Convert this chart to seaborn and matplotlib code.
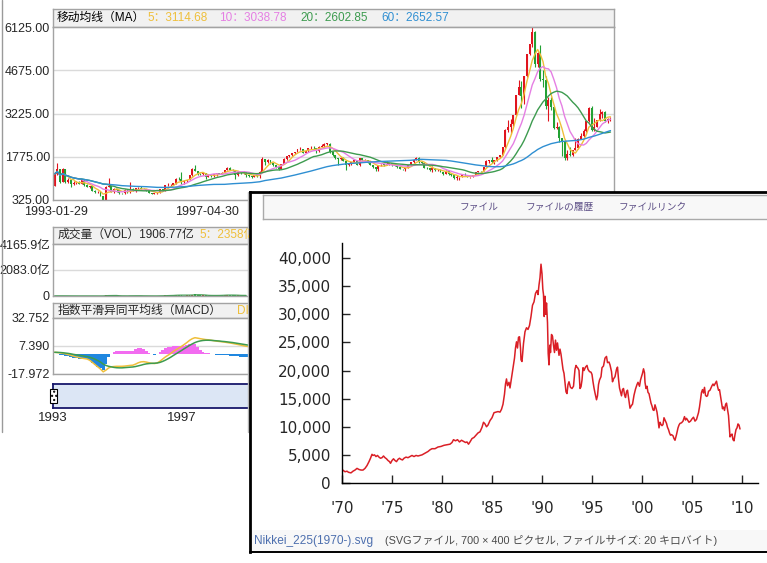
import numpy as np
import pandas as pd
import seaborn as sns
import matplotlib
matplotlib.use("Agg")
import matplotlib.pyplot as plt
from matplotlib.patches import Rectangle
from matplotlib.lines import Line2D

W, H = 767, 563

# ---- Shanghai composite, monthly candles 1993-01 .. 2010-03 ----
sh_first_open = 780.39
sh_close = [
    1200, 1358, 925, 1358, 934, 1007, 860, 894, 905, 876, 1002, 834,
    770, 793, 640, 577, 589, 467, 333, 766, 801, 609, 686, 648,
    562, 549, 673, 580, 700, 630, 713, 720, 710, 700, 630, 555,
    537, 552, 563, 701, 643, 816, 829, 840, 886, 1039, 1030, 917,
    964, 1000, 1150, 1350, 1300, 1200, 1190, 1220, 1100, 1150, 1130, 1194,
    1220, 1206, 1240, 1330, 1411, 1339, 1320, 1150, 1250, 1220, 1250, 1147,
    1134, 1090, 1158, 1120, 1280, 1690, 1600, 1660, 1560, 1500, 1430, 1367,
    1535, 1714, 1800, 1836, 1894, 1928, 2023, 2024, 1910, 1961, 2070, 2073,
    2065, 1960, 2112, 2119, 2214, 2218, 1920, 1834, 1735, 1689, 1747, 1646,
    1491, 1525, 1603, 1663, 1515, 1732, 1652, 1669, 1581, 1508, 1434, 1358,
    1500, 1511, 1510, 1521, 1576, 1487, 1476, 1421, 1367, 1348, 1397, 1497,
    1590, 1675, 1741, 1595, 1555, 1399, 1386, 1342, 1396, 1320, 1340, 1267,
    1191, 1306, 1181, 1159, 1060, 1080, 1083, 1162, 1155, 1092, 1099, 1161,
    1258, 1299, 1298, 1440, 1641, 1672, 1612, 1658, 1752, 1837, 2099, 2675,
    2786, 2881, 3183, 3841, 4109, 3820, 4471, 5218, 5552, 5954, 4871, 5262,
    4383, 4348, 3473, 3693, 3433, 2736, 2775, 2397, 2293, 1729, 1871, 1821,
    1991, 2082, 2373, 2477, 2633, 2959, 3412, 2668, 2779, 2996, 3195, 3277,
    2989, 3052, 3060]
sh_high = [
    1260, 1559, 1380, 1392, 1360, 1050, 1030, 950, 960, 950, 1044, 1010,
    850, 800, 800, 660, 610, 590, 470, 800, 1052, 810, 720, 700,
    650, 570, 680, 680, 926, 720, 720, 760, 780, 740, 705, 640,
    560, 560, 580, 710, 705, 830, 880, 860, 900, 1050, 1080, 1258,
    980, 1010, 1160, 1390, 1510, 1310, 1230, 1240, 1225, 1180, 1160, 1200,
    1230, 1230, 1250, 1340, 1422, 1420, 1360, 1325, 1270, 1260, 1300, 1260,
    1160, 1140, 1170, 1170, 1300, 1756, 1700, 1700, 1680, 1570, 1510, 1440,
    1545, 1740, 1810, 1850, 1900, 1950, 2030, 2115, 2030, 1970, 2080, 2125,
    2130, 2070, 2120, 2210, 2230, 2245, 2220, 1960, 1850, 1740, 1780, 1760,
    1650, 1540, 1610, 1680, 1670, 1748, 1740, 1690, 1670, 1590, 1515, 1440,
    1510, 1530, 1530, 1649, 1580, 1580, 1510, 1490, 1430, 1380, 1400, 1510,
    1600, 1690, 1760, 1783, 1610, 1560, 1420, 1400, 1480, 1400, 1370, 1350,
    1270, 1320, 1310, 1235, 1165, 1150, 1090, 1180, 1220, 1160, 1110, 1170,
    1260, 1310, 1310, 1445, 1660, 1680, 1757, 1660, 1760, 1840, 2100, 2700,
    2995, 3050, 3190, 3850, 4336, 4300, 4480, 5220, 5560, 6124, 5990, 5300,
    5522, 4700, 4470, 3790, 3790, 3440, 2950, 2800, 2400, 2300, 2000, 2100,
    2010, 2402, 2390, 2580, 2690, 2980, 3450, 3478, 3070, 3020, 3361, 3300,
    3306, 3060, 3110]
sh_low = [
    780, 1150, 900, 920, 900, 900, 770, 820, 860, 850, 860, 810,
    760, 730, 620, 550, 550, 450, 326, 330, 760, 590, 560, 600,
    540, 524, 540, 560, 560, 620, 600, 690, 700, 690, 610, 545,
    512, 520, 530, 560, 620, 640, 790, 800, 820, 870, 990, 855,
    870, 940, 990, 1140, 1290, 1150, 1150, 1170, 1025, 1090, 1100, 1110,
    1140, 1180, 1190, 1230, 1320, 1320, 1300, 1043, 1130, 1190, 1210, 1110,
    1100, 1064, 1080, 1100, 1050, 1270, 1500, 1580, 1540, 1480, 1400, 1341,
    1360, 1520, 1680, 1780, 1810, 1860, 1920, 1990, 1890, 1890, 1950, 2040,
    2020, 1890, 1950, 2090, 2110, 2180, 1900, 1800, 1700, 1514, 1660, 1620,
    1340, 1450, 1510, 1590, 1490, 1460, 1640, 1620, 1570, 1490, 1400, 1311,
    1310, 1470, 1480, 1500, 1500, 1470, 1460, 1410, 1355, 1320, 1307, 1390,
    1490, 1580, 1650, 1580, 1520, 1390, 1360, 1310, 1260, 1300, 1300, 1250,
    1178, 1180, 1170, 1130, 1040, 998, 1004, 1080, 1130, 1090, 1070, 1090,
    1160, 1250, 1260, 1290, 1420, 1550, 1560, 1540, 1640, 1740, 1820, 2080,
    2600, 2540, 2800, 3170, 3830, 3400, 3560, 4460, 5200, 5460, 4800, 4780,
    4330, 4120, 3360, 2990, 3330, 2690, 2690, 2280, 1800, 1664, 1680, 1800,
    1800, 1990, 2040, 2370, 2450, 2620, 2950, 2640, 2640, 2770, 2990, 3070,
    2940, 2890, 2990]
ma_windows = [5, 10, 20, 60]
ma_colors = ["#efbf3a", "#e57fe3", "#3d9b4f", "#2f8fd2"]
ma_labels = ["5：3114.68", "10：3038.78", "20：2602.85", "60：2652.57"]
price_ticks = [325.00, 1775.00, 3225.00, 4675.00, 6125.00]

# volume (亿), visible part 1993-1998
vol_1993_1998 = [
    10, 15, 12, 10, 8, 6, 6, 5, 5, 4, 8, 6,
    4, 3, 4, 3, 3, 3, 8, 90, 60, 15, 20, 10,
    6, 5, 12, 8, 40, 12, 15, 14, 12, 8, 6, 5,
    5, 6, 8, 30, 25, 45, 50, 40, 55, 90, 85, 70,
    40, 60, 90, 120, 140, 70, 50, 55, 45, 40, 35, 40,
    55, 50, 70, 80, 90, 60, 55, 50, 45, 40, 50, 40]
vol_ticks = [0, 2083.0, 4165.9]
vol_ticklabels = ["0", "2083.0亿", "4165.9亿"]

# MACD, visible part 1993-01 .. 1999-01
macd_dif = [
    1.7, 1.5, 1.2, 0.8, 0.3, -0.3, -1.0, -1.8, -2.5, -3.0, -3.6, -4.0,
    -4.4, -5.5, -7.5, -9.5, -11.5, -13.5, -16.0, -14.5, -12.5, -11.5, -11.2, -11.0,
    -11.0, -11.0, -10.8, -10.5, -10.2, -10.0, -9.0, -7.8, -7.0, -6.8, -7.2, -7.8,
    -8.3, -8.5, -8.0, -6.5, -4.5, -2.6, -1.0, 0.5, 2.5, 4.0, 5.5, 7.0,
    8.7, 10.5, 12.5, 14.0, 14.9, 14.5, 14.0, 13.6, 13.2, 13.0, 12.6, 12.2,
    11.8, 11.5, 11.2, 10.9, 10.5, 10.1, 9.7, 9.2, 8.7, 8.2, 7.6, 7.2, 6.8]
macd_dea = [
    1.7, 1.6, 1.5, 1.3, 1.0, 0.7, 0.3, -0.2, -0.6, -1.0, -1.4, -1.8,
    -2.2, -2.8, -3.6, -4.6, -5.8, -7.2, -9.0, -10.2, -11.0, -11.5, -12.0, -12.3,
    -12.4, -12.4, -12.2, -12.0, -11.8, -11.6, -11.2, -10.6, -10.0, -9.3, -8.8, -8.5,
    -8.3, -8.2, -8.0, -7.5, -6.6, -5.5, -4.2, -2.8, -1.2, 0.3, 1.8, 3.3,
    4.9, 6.4, 7.9, 9.3, 10.5, 11.4, 12.0, 12.4, 12.6, 12.6, 12.5, 12.3,
    12.1, 11.9, 11.6, 11.4, 11.1, 10.8, 10.5, 10.1, 9.7, 9.3, 8.9, 8.5, 8.1]
macd_ticks = [-17.972, 7.390, 32.752]

# ---- Nikkei 225 (window on top), value in thousands of yen ----
nikkei_year = [
    1970.0, 1970.15, 1970.3, 1970.5, 1970.65, 1970.9, 1971.1, 1971.3, 1971.5, 1971.7,
    1971.9, 1972.1, 1972.3, 1972.5, 1972.7, 1972.85, 1973.0, 1973.1, 1973.25, 1973.4,
    1973.55, 1973.7, 1973.85, 1974.0, 1974.15, 1974.3, 1974.45, 1974.6, 1974.75, 1974.85,
    1975.0, 1975.15, 1975.3, 1975.45, 1975.6, 1975.75, 1975.9, 1976.05, 1976.2, 1976.4,
    1976.6, 1976.8, 1977.0, 1977.2, 1977.4, 1977.6, 1977.8, 1978.0, 1978.2, 1978.4,
    1978.6, 1978.8, 1979.0, 1979.3, 1979.6, 1979.9, 1980.2, 1980.5, 1980.8, 1981.0,
    1981.15, 1981.35, 1981.55, 1981.75, 1981.95, 1982.15, 1982.35, 1982.5, 1982.65, 1982.8,
    1983.0, 1983.2, 1983.4, 1983.6, 1983.8, 1984.0, 1984.15, 1984.3, 1984.45, 1984.6,
    1984.8, 1985.0, 1985.2, 1985.4, 1985.6, 1985.8, 1985.95, 1986.1, 1986.25, 1986.35,
    1986.45, 1986.55, 1986.7, 1986.8, 1986.95, 1987.1, 1987.25, 1987.35, 1987.45, 1987.55,
    1987.65, 1987.75, 1987.85, 1987.9, 1988.0, 1988.15, 1988.3, 1988.45, 1988.6, 1988.75,
    1988.9, 1989.05, 1989.2, 1989.35, 1989.5, 1989.6, 1989.7, 1989.8, 1989.9, 1990.0,
    1990.08, 1990.15, 1990.22, 1990.3, 1990.38, 1990.45, 1990.55, 1990.62, 1990.7, 1990.78,
    1990.85, 1990.95, 1991.05, 1991.15, 1991.25, 1991.35, 1991.45, 1991.55, 1991.7, 1991.8,
    1991.9, 1992.0, 1992.1, 1992.2, 1992.3, 1992.4, 1992.5, 1992.6, 1992.7, 1992.85,
    1993.0, 1993.15, 1993.3, 1993.4, 1993.5, 1993.6, 1993.7, 1993.8, 1993.9, 1994.0,
    1994.1, 1994.2, 1994.35, 1994.5, 1994.6, 1994.75, 1994.9, 1995.0, 1995.1, 1995.2,
    1995.3, 1995.45, 1995.55, 1995.65, 1995.75, 1995.9, 1996.0, 1996.15, 1996.3, 1996.45,
    1996.55, 1996.7, 1996.8, 1996.95, 1997.05, 1997.15, 1997.3, 1997.45, 1997.55, 1997.65,
    1997.75, 1997.85, 1997.95, 1998.05, 1998.15, 1998.25, 1998.35, 1998.45, 1998.55, 1998.7,
    1998.8, 1998.95, 1999.05, 1999.2, 1999.35, 1999.5, 1999.6, 1999.75, 1999.85, 1999.95,
    2000.05, 2000.15, 2000.25, 2000.3, 2000.4, 2000.5, 2000.6, 2000.7, 2000.8, 2000.9,
    2001.0, 2001.1, 2001.2, 2001.3, 2001.4, 2001.5, 2001.6, 2001.7, 2001.8, 2001.9,
    2002.0, 2002.1, 2002.2, 2002.3, 2002.45, 2002.55, 2002.65, 2002.75, 2002.85, 2002.95,
    2003.1, 2003.2, 2003.3, 2003.45, 2003.6, 2003.7, 2003.8, 2003.95, 2004.1, 2004.25,
    2004.35, 2004.45, 2004.6, 2004.7, 2004.85, 2005.0, 2005.15, 2005.3, 2005.45, 2005.55,
    2005.65, 2005.75, 2005.85, 2005.95, 2006.05, 2006.15, 2006.25, 2006.35, 2006.45, 2006.55,
    2006.65, 2006.8, 2006.9, 2007.0, 2007.1, 2007.2, 2007.35, 2007.45, 2007.55, 2007.65,
    2007.75, 2007.85, 2007.95, 2008.05, 2008.15, 2008.25, 2008.35, 2008.45, 2008.55, 2008.65,
    2008.75, 2008.8, 2008.9, 2009.0, 2009.1, 2009.2, 2009.3, 2009.4, 2009.5, 2009.6,
    2009.7, 2009.8]
nikkei_value = [
    2.4, 2.2, 2.0, 2.1, 1.9, 1.8, 2.1, 2.3, 2.6, 2.4,
    2.3, 2.3, 2.6, 3.1, 3.8, 4.4, 5.1, 4.9, 5.0, 4.7,
    4.9, 4.6, 4.4, 4.5, 4.8, 4.5, 4.3, 4.0, 3.8, 3.5,
    4.0, 4.3, 4.0, 3.8, 4.2, 4.4, 4.2, 4.1, 4.4, 4.6,
    4.5, 4.7, 4.9, 4.7, 4.9, 4.8, 4.9, 5.0, 5.2, 5.4,
    5.6, 5.9, 6.1, 6.1, 6.4, 6.5, 6.7, 6.8, 6.9, 7.2,
    7.7, 7.5, 7.7, 7.3, 7.6, 7.4, 7.2, 7.3, 6.9, 7.3,
    7.9, 8.1, 8.5, 8.9, 9.1, 9.9, 10.8, 10.5, 10.0, 10.3,
    11.1, 11.6, 12.5, 12.6, 12.7, 12.6, 13.1, 14.0, 15.8, 17.6,
    18.5, 17.3, 17.9, 16.9, 18.7, 20.4, 22.2, 24.0, 25.1, 24.0,
    25.9, 26.0, 24.0, 21.9, 21.6, 24.8, 26.9, 27.6, 27.3, 28.0,
    29.6, 31.6, 32.2, 33.7, 34.2, 33.5, 35.2, 36.5, 38.9, 37.2,
    34.5, 33.5, 29.6, 33.2, 30.0, 32.0, 28.5, 23.0, 21.0, 24.5,
    23.2, 26.4, 26.1, 24.5, 23.2, 25.4, 23.6, 24.9, 22.7, 23.8,
    22.9, 21.5, 20.2, 19.5, 17.9, 16.2, 15.9, 17.5, 18.0, 17.0,
    16.8, 17.2, 20.2, 20.9, 20.6, 20.4, 20.0, 16.8, 17.1, 18.3,
    20.5, 20.0, 20.6, 20.9, 20.2, 19.8, 19.7, 19.3, 18.0, 16.9,
    16.0, 14.8, 15.5, 17.5, 18.3, 18.9, 20.5, 20.8, 22.2, 22.5,
    21.4, 21.5, 21.0, 19.8, 18.0, 18.5, 18.9, 20.2, 20.6, 18.5,
    16.9, 16.2, 15.5, 16.6, 16.8, 15.7, 15.2, 16.2, 16.5, 14.5,
    13.3, 13.8, 14.0, 15.6, 16.7, 17.5, 17.9, 17.2, 18.3, 18.9,
    19.5, 20.3, 19.6, 17.9, 16.8, 17.2, 16.1, 15.9, 15.0, 14.2,
    13.7, 13.0, 12.9, 13.9, 13.3, 12.6, 11.3, 9.8, 10.8, 10.4,
    10.2, 10.4, 11.6, 11.2, 10.6, 9.9, 9.5, 8.9, 8.5, 8.6,
    8.4, 7.9, 7.6, 8.6, 9.8, 10.3, 10.6, 10.7, 11.0, 11.8,
    11.2, 11.5, 11.1, 10.8, 11.0, 11.4, 11.7, 11.0, 11.3, 11.9,
    12.5, 13.5, 14.8, 16.1, 16.6, 16.0, 17.0, 15.6, 15.4, 15.5,
    16.3, 16.5, 16.9, 17.3, 17.6, 17.3, 17.8, 18.1, 17.2, 16.5,
    16.6, 15.5, 14.5, 13.2, 13.5, 12.9, 13.9, 14.2, 13.1, 12.0,
    9.5, 8.2, 8.5, 8.7, 7.7, 7.5, 8.6, 9.5, 9.8, 10.5,
    10.3, 9.6]
nikkei_yticks = list(range(0, 40001, 5000))
nikkei_xticks = list(range(1970, 2011, 5))
nikkei_xlabels = ["'70", "'75", "'80", "'85", "'90", "'95", "'00", "'05", "'10"]

sns.set_style("white")
plt.rcParams["font.family"] = ["Liberation Sans", "Noto Sans CJK SC", "DejaVu Sans"]
JP = ["Liberation Sans", "Noto Sans CJK JP"]

fig = plt.figure(figsize=(W / 100, H / 100), dpi=100)


def box(x0, y0, x1, y1, **kw):
    return fig.add_axes([x0 / W, 1 - y1 / H, (x1 - x0) / W, (y1 - y0) / H], **kw)


def ftext(x, y, s, **kw):
    kw.setdefault("va", "center")
    return fig.text(x / W, 1 - y / H, s, **kw)


PANEL = "#a3a3a3"
RED, GREEN = "#e0141e", "#22a133"


def panel(x0, y0, x1, ymid, y1):
    hdr = box(x0, y0, x1, ymid, facecolor="#f1f1f1")
    hdr.set_xticks([]); hdr.set_yticks([])
    ax = box(x0, ymid, x1, y1, facecolor="white")
    for a in (hdr, ax):
        for s in a.spines.values():
            s.set_color(PANEL); s.set_linewidth(1)
    ax.tick_params(length=0, labelsize=9, pad=2.2, left=False, bottom=False)
    ax.set_xticks([])
    ax.grid(axis="y", color="#dadada", lw=1)
    ax.set_axisbelow(True)
    return ax


# container lines of the background chart
fig.add_artist(Line2D([1.5 / W] * 2, [1, 1 - 432 / H], color="#9a9a9a", lw=1))
fig.add_artist(Line2D([248 / W] * 2, [1 - 192 / H, 1 - 432 / H], color="#b5b5b5", lw=1))

idx = np.arange(len(sh_close))
close = np.array(sh_close, float)
opn = np.r_[sh_first_open, close[:-1]]
colors = np.where(close >= opn, RED, GREEN)
XL = (-0.6, 207.3)

# main price panel
ax = panel(53, 9, 614, 27, 200)
ax.vlines(idx, sh_low, sh_high, colors=colors, lw=0.8)
ax.bar(idx, np.maximum(np.abs(close - opn), 8), bottom=np.minimum(opn, close),
       width=0.72, color=colors, linewidth=0)
s_close = pd.Series(close)
for w, c in zip(ma_windows, ma_colors):
    sns.lineplot(x=idx, y=s_close.rolling(w, min_periods=1).mean().values,
                 ax=ax, color=c, lw=1.0, legend=False)
ax.set_xlim(*XL)
ax.set_ylim(price_ticks[0], price_ticks[-1])
ax.set_yticks(price_ticks, ["%.2f" % v for v in price_ticks])
ax.set_ylabel("")

ftext(57, 18, "移动均线（MA）", fontsize=8.5, color="black")
for xp, lab, c in zip([147, 219, 300, 381], ma_labels, ma_colors):
    ftext(xp, 18, lab, fontsize=8.5, color=c)
ftext(56, 212, "1993-01-29", fontsize=9, ha="center")
ftext(207, 212, "1997-04-30", fontsize=9, ha="center")

# volume panel
axv = panel(53, 227, 614, 244, 296)
vi = idx[:len(vol_1993_1998)]
axv.bar(vi, vol_1993_1998, width=0.7, color=colors[:len(vi)], linewidth=0)
sns.lineplot(x=vi, y=pd.Series(vol_1993_1998).rolling(5, min_periods=1).mean().values,
             ax=axv, color=ma_colors[2], lw=0.9, legend=False)
axv.set_xlim(*XL)
axv.set_ylim(0, vol_ticks[-1])
axv.set_yticks(vol_ticks, vol_ticklabels)
ftext(58, 235, "成交量（VOL）1906.77亿", fontsize=8.5)
ftext(199, 235, "5：2358亿", fontsize=8.5, color=ma_colors[0])

# MACD panel
axm = panel(53, 303, 614, 318, 374)
mi = idx[:len(macd_dif)]
dif = np.array(macd_dif)
dea = np.array(macd_dea)
hist = 2 * (dif - dea)
axm.bar(mi, hist, width=1.0, color=np.where(hist >= 0, "#f26cf0", "#1f87e0"), linewidth=0)
sns.lineplot(x=mi, y=dif, ax=axm, color="#efbf3a", lw=1.1, legend=False)
sns.lineplot(x=mi, y=dea, ax=axm, color="#3d9b4f", lw=1.1, legend=False)
axm.set_xlim(*XL)
axm.set_ylim(macd_ticks[0], macd_ticks[-1])
axm.set_yticks(macd_ticks, ["%.3f" % v for v in macd_ticks])
ftext(58, 311, "指数平滑异同平均线（MACD）", fontsize=8.5)
ftext(237, 311, "DIF", fontsize=8.5, color="#efbf3a")

# navigator bar
nav = box(53, 384, 614, 408, facecolor="#dce6f5")
nav.set_xticks([]); nav.set_yticks([])
for s in nav.spines.values():
    s.set_color("#17176b"); s.set_linewidth(1.3)
fig.add_artist(Rectangle((50 / W, 1 - 403 / H), 7 / W, 14 / H, transform=fig.transFigure,
                         facecolor="white", edgecolor="black", lw=0.8, hatch="....", zorder=3))
ftext(53, 418, "1993", fontsize=9.5, ha="center")
ftext(182, 418, "1997", fontsize=9.5, ha="center")

# ---- overlay window ----
win = box(250, 192, 770, 552, facecolor="white", zorder=10)
win.set_xticks([]); win.set_yticks([])
win.spines["right"].set_visible(False)
for k in ("left", "top"):
    win.spines[k].set_color("black"); win.spines[k].set_linewidth(2)
win.spines["bottom"].set_color("black"); win.spines["bottom"].set_linewidth(1.4)

tabs = box(263, 195, 775, 219, facecolor="#f8f8f8", zorder=11)
tabs.set_xticks([]); tabs.set_yticks([])
for s in tabs.spines.values():
    s.set_color("#aaaaaa"); s.set_linewidth(1)
for xp, lab in zip([479, 560, 653], ["ファイル", "ファイルの履歴", "ファイルリンク"]):
    ftext(xp, 207, lab, fontsize=7, color="#5d4f86", ha="center", family=JP, zorder=20)

cap = box(252, 530, 775, 551, facecolor="#f8f8f8", zorder=11)
cap.set_xticks([]); cap.set_yticks([])
for s in cap.spines.values():
    s.set_visible(False)
ftext(254, 541, "Nikkei_225(1970-).svg", fontsize=8.6, color="#4d6fae", family=JP, zorder=20)
ftext(385, 541, "(SVGファイル, 700 × 400 ピクセル, ファイルサイズ: 20 キロバイト)",
      fontsize=7.8, color="#4a4a4a", family=JP, zorder=20)

axn = box(342, 243, 758, 483, facecolor="white", zorder=11)
axn.patch.set_alpha(0)
sns.lineplot(x=nikkei_year, y=np.array(nikkei_value) * 1000, ax=axn,
             color="#da1f26", lw=1.1, legend=False)
axn.set_xlim(1970, 2011.6)
axn.set_ylim(0, 42667)
for k in ("top", "right"):
    axn.spines[k].set_visible(False)
for k in ("left", "bottom"):
    axn.spines[k].set_color("black"); axn.spines[k].set_linewidth(1)
axn.set_yticks(nikkei_yticks, ["{:,}".format(v) for v in nikkei_yticks])
axn.set_xticks(nikkei_xticks, nikkei_xlabels)
axn.tick_params(axis="y", direction="in", length=6, width=1, pad=8, labelsize=11,
                left=True, labelfontfamily="DejaVu Sans")
axn.tick_params(axis="x", direction="in", length=6, width=1, pad=13, labelsize=11,
                bottom=True, labelfontfamily="DejaVu Sans")
axn.set_xlabel(""); axn.set_ylabel("")

fig.savefig("out.png", dpi=100)
